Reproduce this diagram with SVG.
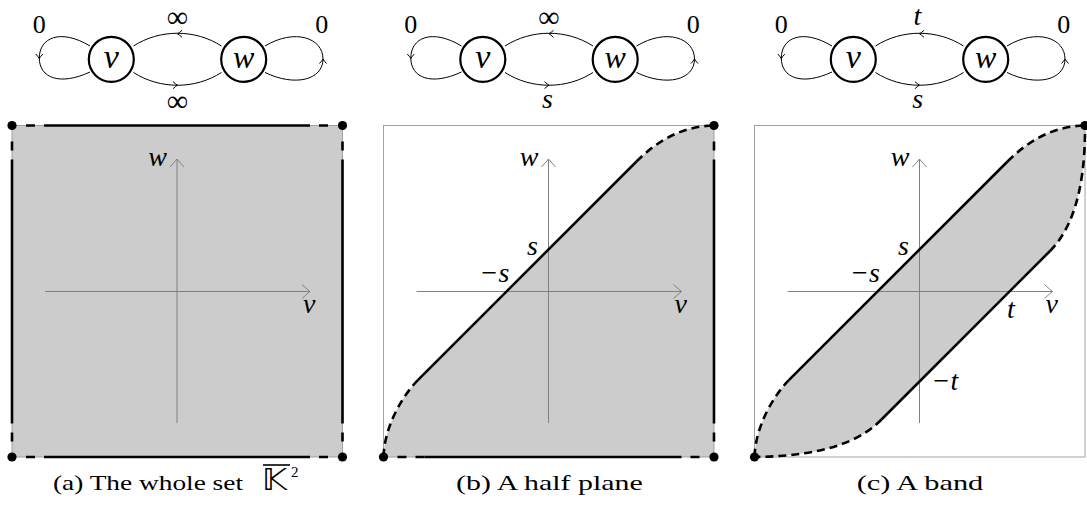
<svg xmlns="http://www.w3.org/2000/svg" width="1087" height="508" viewBox="0 0 1087 508">
<style>
.m{font-family:'Liberation Serif','Times New Roman',Tinos,serif;font-style:italic;fill:#000}
.r{font-family:'Liberation Serif','Times New Roman',Tinos,serif;fill:#000}
.node{fill:#fff;stroke:#000;stroke-width:2.2}
.edge{fill:none;stroke:#000;stroke-width:1}
.chev{fill:none;stroke:#000;stroke-width:1}
.fill{fill:#cccccc;stroke:none}
.box{fill:none;stroke:#999;stroke-width:0.9}
.axis{fill:none;stroke:#808080;stroke-width:1}
.ach{fill:none;stroke:#808080;stroke-width:1}
.thick{fill:none;stroke:#000;stroke-width:2.6}
.dh{fill:none;stroke:#000;stroke-width:2.6;stroke-dasharray:9 9 9 100}
.dv{fill:none;stroke:#000;stroke-width:2.6;stroke-dasharray:0 9 9 100}
.dc{fill:none;stroke:#000;stroke-width:2.6;stroke-dasharray:8 5}
.dot{fill:#000}
</style>
<defs>
<path id="gch" d="M-4.5,-3.5 Q-1.5,-0.8 0,0 Q-1.5,0.8 -4.5,3.5"/>
<path id="ach" d="M-8,-7 Q-2,-1.5 0,0 Q-2,1.5 -8,7"/>
</defs>

<!-- ===== Graphs ===== -->
<g id="graph-a">
  <g id="edges-a">
    <path class="edge" d="M133.5,46 C160,29 195,29 221.5,46"/>
    <path class="edge" d="M133.5,72.5 C160,89.5 195,89.5 221.5,72.5"/>
    <path class="edge" d="M90,46 C60,28 39.3,38 39.3,58 C39.3,78 60,86 90,72"/>
    <path class="edge" d="M265,46 C295,28 323,38 323,59 C323,80 295,87 265,72.5"/>
    <use href="#gch" class="chev" transform="translate(177.5,33.8) rotate(180)"/>
    <use href="#gch" class="chev" transform="translate(177.5,85.2)"/>
    <use href="#gch" class="chev" transform="translate(39.3,58.5) rotate(90)"/>
    <use href="#gch" class="chev" transform="translate(323,59) rotate(-90)"/>
  </g>
  <g id="node-a-v"><circle class="node" cx="111.3" cy="59.3" r="22.5"/><text class="m" x="111.3" y="67.5" font-size="34" text-anchor="middle">v</text></g>
  <g id="node-a-w"><circle class="node" cx="243.7" cy="59.3" r="22.5"/><text class="m" x="243.7" y="67.5" font-size="32" text-anchor="middle">w</text></g>
  <text class="r" x="39.3" y="33" font-size="26" text-anchor="middle">0</text>
  <text class="r" x="321.7" y="33" font-size="26" text-anchor="middle">0</text>
  <text class="r" x="177.5" y="27" font-size="30" text-anchor="middle">∞</text>
  <text class="r" x="177.5" y="111" font-size="30" text-anchor="middle">∞</text>
</g>

<g id="graph-b" transform="translate(371.5,0)">
  <g id="edges-b">
    <path class="edge" d="M133.5,46 C160,29 195,29 221.5,46"/>
    <path class="edge" d="M133.5,72.5 C160,89.5 195,89.5 221.5,72.5"/>
    <path class="edge" d="M90,46 C60,28 39.3,38 39.3,58 C39.3,78 60,86 90,72"/>
    <path class="edge" d="M265,46 C295,28 323,38 323,59 C323,80 295,87 265,72.5"/>
    <use href="#gch" class="chev" transform="translate(177.5,33.8) rotate(180)"/>
    <use href="#gch" class="chev" transform="translate(177.5,85.2)"/>
    <use href="#gch" class="chev" transform="translate(39.3,58.5) rotate(90)"/>
    <use href="#gch" class="chev" transform="translate(323,59) rotate(-90)"/>
  </g>
  <g id="node-b-v"><circle class="node" cx="111.3" cy="59.3" r="22.5"/><text class="m" x="111.3" y="67.5" font-size="34" text-anchor="middle">v</text></g>
  <g id="node-b-w"><circle class="node" cx="243.7" cy="59.3" r="22.5"/><text class="m" x="243.7" y="67.5" font-size="32" text-anchor="middle">w</text></g>
  <text class="r" x="39.3" y="33" font-size="26" text-anchor="middle">0</text>
  <text class="r" x="321.7" y="33" font-size="26" text-anchor="middle">0</text>
  <text class="r" x="177.5" y="27" font-size="30" text-anchor="middle">∞</text>
  <text class="m" x="176" y="108" font-size="28" text-anchor="middle">s</text>
</g>

<g id="graph-c" transform="translate(742,0)">
  <g id="edges-c">
    <path class="edge" d="M133.5,46 C160,29 195,29 221.5,46"/>
    <path class="edge" d="M133.5,72.5 C160,89.5 195,89.5 221.5,72.5"/>
    <path class="edge" d="M90,46 C60,28 39.3,38 39.3,58 C39.3,78 60,86 90,72"/>
    <path class="edge" d="M265,46 C295,28 323,38 323,59 C323,80 295,87 265,72.5"/>
    <use href="#gch" class="chev" transform="translate(177.5,33.8) rotate(180)"/>
    <use href="#gch" class="chev" transform="translate(177.5,85.2)"/>
    <use href="#gch" class="chev" transform="translate(39.3,58.5) rotate(90)"/>
    <use href="#gch" class="chev" transform="translate(323,59) rotate(-90)"/>
  </g>
  <g id="node-c-v"><circle class="node" cx="111.3" cy="59.3" r="22.5"/><text class="m" x="111.3" y="67.5" font-size="34" text-anchor="middle">v</text></g>
  <g id="node-c-w"><circle class="node" cx="243.7" cy="59.3" r="22.5"/><text class="m" x="243.7" y="67.5" font-size="32" text-anchor="middle">w</text></g>
  <text class="r" x="39.3" y="33" font-size="26" text-anchor="middle">0</text>
  <text class="r" x="321.7" y="33" font-size="26" text-anchor="middle">0</text>
  <text class="m" x="175.5" y="25" font-size="28" text-anchor="middle">t</text>
  <text class="m" x="175.7" y="108" font-size="28" text-anchor="middle">s</text>
</g>

<!-- ===== Panel a ===== -->
<g id="panel-a">
  <rect class="fill" x="12" y="125.5" width="330.5" height="331.5"/>
  <rect class="box" x="12" y="125.5" width="330.5" height="331.5"/>
  <path class="axis" d="M45,291.5 H310 M177,423 V159"/>
  <use href="#ach" class="ach" transform="translate(310,291.5)"/>
  <use href="#ach" class="ach" transform="translate(177,159) rotate(-90)"/>
  <path class="thick" d="M53,125.5 H310 M53,457 H310 M12,159.5 V423.5 M342.5,159.5 V423.5"/>
  <path class="dh" d="M53,125.5 H12 M53,457 H12"/>
  <path class="dv" d="M310,125.5 H342.5 M310,457 H342.5 M12,159.5 V125.5 M12,423.5 V457 M342.5,159.5 V125.5 M342.5,423.5 V457"/>
  <circle class="dot" cx="12" cy="125.5" r="4.6"/>
  <circle class="dot" cx="342.5" cy="125.5" r="4.6"/>
  <circle class="dot" cx="12" cy="457" r="4.6"/>
  <circle class="dot" cx="342.5" cy="457" r="4.6"/>
  <text class="m" x="167" y="166" font-size="28" text-anchor="end">w</text>
  <text class="m" x="303" y="313" font-size="28">v</text>
</g>

<!-- ===== Panel b ===== -->
<g id="panel-b" transform="translate(371.5,0)">
  <path class="fill" d="M12,457 C13,425 32,394.5 46.6,379.9 L265,161.5 C285,141.5 310,126 342.5,125.5 L342.5,457 Z"/>
  <rect class="box" x="12" y="125.5" width="330.5" height="331.5"/>
  <path class="axis" d="M45,291.5 H310 M177,423 V159"/>
  <use href="#ach" class="ach" transform="translate(310,291.5)"/>
  <use href="#ach" class="ach" transform="translate(177,159) rotate(-90)"/>
  <path class="thick" d="M46.6,379.9 L265,161.5 M53,457 H310 M342.5,159.5 V423.5"/>
  <path class="dc" d="M265,161.5 C285,141.5 310,126 342.5,125.5 M46.6,379.9 C32,394.5 13,425 12,457"/>
  <path class="dh" d="M53,457 H12"/>
  <path class="dv" d="M310,457 H342.5 M342.5,159.5 V125.5 M342.5,423.5 V457"/>
  <circle class="dot" cx="342.5" cy="125.5" r="4.6"/>
  <circle class="dot" cx="12" cy="457" r="4.6"/>
  <circle class="dot" cx="342.5" cy="457" r="4.6"/>
  <text class="m" x="167" y="166" font-size="28" text-anchor="end">w</text>
  <text class="m" x="303" y="313" font-size="28">v</text>
  <text class="m" x="155.5" y="255" font-size="28">s</text>
  <text class="m" x="108" y="281.7" font-size="28">−s</text>
</g>

<!-- ===== Panel c ===== -->
<g id="panel-c" transform="translate(742.5,0)">
  <path class="fill" d="M12,457 C13,425 32,394.5 46.6,379.9 L265,161.5 C285,141.5 310,126 342.5,125.5 C343,195 327,231.5 307.5,251 L139,419.5 C124,434.5 95,456 12,457 Z"/>
  <rect class="box" x="12" y="125.5" width="330.5" height="331.5"/>
  <path class="axis" d="M45,291.5 H310 M177,423 V159"/>
  <use href="#ach" class="ach" transform="translate(310,291.5)"/>
  <use href="#ach" class="ach" transform="translate(177,159) rotate(-90)"/>
  <path class="thick" d="M46.6,379.9 L265,161.5 M139,419.5 L307.5,251"/>
  <path class="dc" d="M265,161.5 C285,141.5 310,126 342.5,125.5 M46.6,379.9 C32,394.5 13,425 12,457 M307.5,251 C327,231.5 343,195 342.5,125.5 M139,419.5 C124,434.5 95,456 12,457"/>
  <circle class="dot" cx="342.5" cy="125.5" r="4.6"/>
  <circle class="dot" cx="12" cy="457" r="4.6"/>
  <text class="m" x="167" y="166" font-size="28" text-anchor="end">w</text>
  <text class="m" x="303" y="313" font-size="28">v</text>
  <text class="m" x="155.5" y="255" font-size="28">s</text>
  <text class="m" x="107.5" y="281.7" font-size="28">−s</text>
  <text class="m" x="264.5" y="318" font-size="28">t</text>
  <text class="m" x="189" y="390" font-size="28">−t</text>
</g>

<!-- ===== Captions ===== -->
<g id="captions">
  <text class="r" x="53" y="490" font-size="22" textLength="190" lengthAdjust="spacingAndGlyphs">(a) The whole set</text>
  <text x="262" y="490" font-size="30" font-family="DejaVu Sans, sans-serif" textLength="25" lengthAdjust="spacingAndGlyphs">𝕂</text>
  <line x1="263" y1="465" x2="290" y2="465" stroke="#000" stroke-width="1.6"/>
  <text class="r" x="291" y="477" font-size="15">2</text>
  <text class="r" x="456" y="490" font-size="22" textLength="186.7" lengthAdjust="spacingAndGlyphs">(b) A half plane</text>
  <text class="r" x="856.7" y="490" font-size="22" textLength="126.6" lengthAdjust="spacingAndGlyphs">(c) A band</text>
</g>
</svg>
